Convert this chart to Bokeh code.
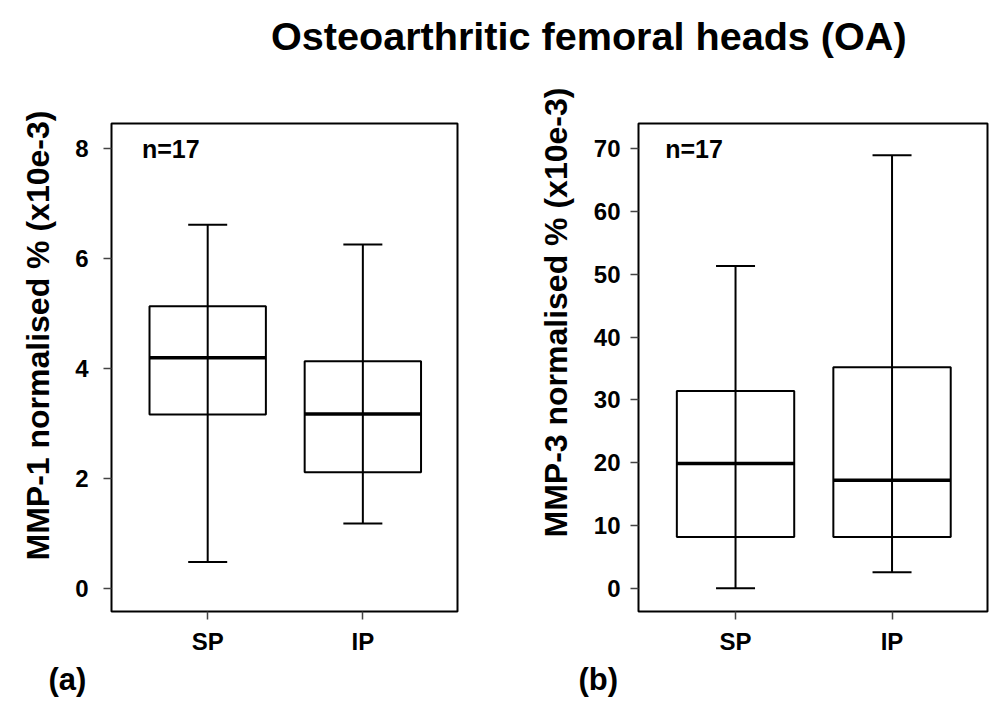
from bokeh.plotting import figure
from bokeh.models import (ColumnDataSource, Range1d, Whisker, TeeHead, Label, Div,
                          FixedTicker, Title)
from bokeh.layouts import row, column
from bokeh.embed import file_html
from bokeh.resources import INLINE

# ---------------- data ----------------
categories = ["SP", "IP"]

mmp1_lower = [0.48, 1.18]
mmp1_q1 = [3.16, 2.11]
mmp1_median = [4.19, 3.17]
mmp1_q3 = [5.13, 4.13]
mmp1_upper = [6.61, 6.25]

mmp3_lower = [0.05, 2.6]
mmp3_q1 = [8.2, 8.2]
mmp3_median = [19.9, 17.2]
mmp3_q3 = [31.4, 35.2]
mmp3_upper = [51.3, 68.9]

mmp1_ticks = [0, 2, 4, 6, 8]
mmp3_ticks = [0, 10, 20, 30, 40, 50, 60, 70]

n_label = "n=17"
title_text = "Osteoarthritic femoral heads (OA)"
mmp1_ylabel = "MMP-1 normalised % (x10e-3)"
mmp3_ylabel = "MMP-3 normalised % (x10e-3)"

FONT = "Liberation Sans"
BOX_W = 0.75


def make_panel(lower, q1, med, q3, upper, yr, ticks, ylabel, ytitle_offset,
               ytitle_standoff, n_pos, tag, tag_offset, border_left, border_right,
               frame_w, ylab_standoff):
    xs = list(range(1, len(categories) + 1))
    src = ColumnDataSource(dict(
        x=xs, lower=lower, q1=q1, med=med, q3=q3, upper=upper,
        x0=[x - BOX_W / 2 for x in xs], x1=[x + BOX_W / 2 for x in xs]))

    p = figure(x_range=Range1d(0.38, 2.61), y_range=Range1d(*yr),
               frame_width=frame_w, frame_height=488,
               min_border_left=border_left, min_border_right=border_right,
               min_border_top=38, min_border_bottom=94,
               output_backend="svg", toolbar_location=None,
               background_fill_color="white", border_fill_color="white")
    p.grid.visible = False
    p.outline_line_color = "black"
    p.outline_line_width = 2

    # whiskers (line runs through box, as in reference)
    w = Whisker(base="x", lower="lower", upper="upper", source=src,
                line_color="black", line_width=2,
                lower_head=TeeHead(size=39, line_color="black", line_width=2),
                upper_head=TeeHead(size=39, line_color="black", line_width=2))
    p.add_layout(w)
    p.vbar(x="x", width=BOX_W, bottom="q1", top="q3", source=src,
           fill_color=None, line_color="black", line_width=2)
    p.segment(x0="x0", x1="x1", y0="med", y1="med", source=src,
              line_color="black", line_width=3.5)

    # axes
    p.xaxis.ticker = FixedTicker(ticks=xs)
    p.xaxis.major_label_overrides = {x: c for x, c in zip(xs, categories)}
    p.yaxis.ticker = FixedTicker(ticks=ticks)
    for ax in (p.xaxis[0], p.yaxis[0]):
        ax.axis_line_color = None
        ax.minor_tick_line_color = None
        ax.major_tick_in = 0
        ax.major_tick_out = 8
        ax.major_tick_line_color = "#444444"
        ax.major_tick_line_width = 1.5
        ax.major_label_text_font = FONT
        ax.major_label_text_font_style = "bold"
        ax.major_label_text_color = "black"
        ax.major_label_text_font_size = "24px"
    p.yaxis.major_label_standoff = ylab_standoff
    p.xaxis.major_label_standoff = 8

    # rotated y title as a side title (starts above the frame bottom)
    p.add_layout(Title(text=ylabel, align="left", offset=ytitle_offset,
                       standoff=ytitle_standoff,
                       text_font=FONT, text_font_style="bold",
                       text_font_size="32px", text_color="black"), "left")
    # panel tag below
    p.add_layout(Title(text=tag, align="left", offset=tag_offset, standoff=4,
                       text_font=FONT, text_font_style="bold",
                       text_font_size="31px", text_color="black"), "below")
    p.add_layout(Label(x=n_pos[0], y=n_pos[1], text=n_label,
                       text_align="center", text_baseline="middle",
                       text_font=FONT, text_font_style="bold",
                       text_font_size="25px", text_color="black"))
    return p


p1 = make_panel(mmp1_lower, mmp1_q1, mmp1_median, mmp1_q3, mmp1_upper,
                (-0.42, 8.45), mmp1_ticks, mmp1_ylabel, 51, 34,
                (0.762, 7.99), "(a)", -63, 110, 60, 346, 15)
p2 = make_panel(mmp3_lower, mmp3_q1, mmp3_median, mmp3_q3, mmp3_upper,
                (-3.66, 73.97), mmp3_ticks, mmp3_ylabel, 74, 34,
                (0.735, 69.9), "(b)", -60, 121, 10, 349, 10)

title = Div(text=('<div style="position:absolute; left:266px; top:12px; white-space:nowrap; '
                  'font-family:\'Liberation Sans\'; font-weight:bold; font-size:39.6px; '
                  'line-height:1; color:black;">' + title_text + '</div>'),
            width=988, height=75)

layout = column(title, row(p1, p2))
open("out.html", "w").write(file_html(layout, INLINE))
